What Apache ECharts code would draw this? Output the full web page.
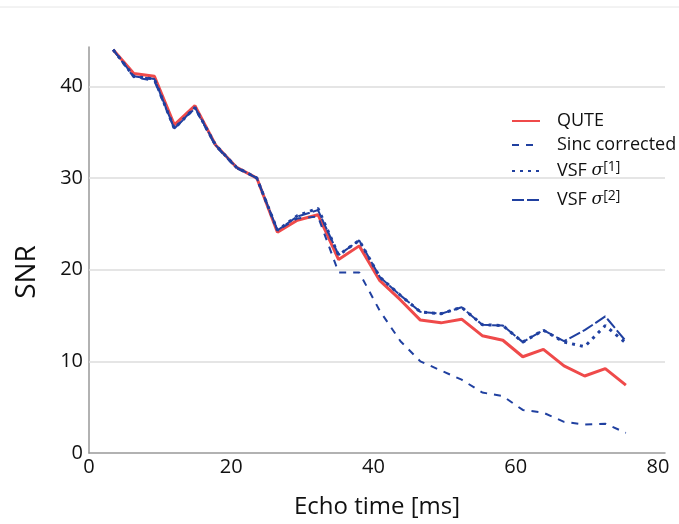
<!DOCTYPE html>
<html>
<head>
<meta charset="utf-8">
<script src="https://cdn.jsdelivr.net/npm/echarts@6/dist/echarts.min.js"></script>
<style>html,body{margin:0;padding:0;background:#fff}#c{width:679px;height:524px}</style>
</head>
<body>
<div id="c"></div>
<script>
const echoTime = [3.4, 6.3, 9.2, 12.0, 14.9, 17.8, 20.7, 23.6, 26.5, 29.3, 32.2, 35.1, 38.0, 40.9, 43.8, 46.6, 49.5, 52.4, 55.3, 58.2, 61.0, 63.9, 66.8, 69.7, 72.6, 75.5];
const qute = [44.0, 41.4, 41.1, 35.8, 37.9, 33.6, 31.2, 30.0, 24.1, 25.4, 26.0, 21.1, 22.6, 18.8, 16.7, 14.5, 14.2, 14.6, 12.8, 12.3, 10.5, 11.3, 9.5, 8.4, 9.2, 7.4];
const sinc = [44.0, 41.0, 40.6, 35.4, 37.6, 33.5, 31.1, 30.0, 24.3, 25.6, 25.8, 19.7, 19.7, 15.5, 12.2, 10.0, 9.0, 8.0, 6.6, 6.2, 4.7, 4.4, 3.4, 3.1, 3.2, 2.2];
const vsf1 = [44.0, 41.1, 40.8, 35.4, 37.7, 33.6, 31.2, 30.0, 24.3, 25.9, 26.7, 21.6, 23.2, 19.2, 17.2, 15.4, 15.2, 15.9, 14.0, 13.9, 12.1, 13.4, 12.1, 11.6, 13.9, 12.0];
const vsf2 = [44.0, 41.1, 40.8, 35.4, 37.7, 33.6, 31.2, 30.0, 24.3, 25.8, 26.5, 21.6, 23.2, 19.2, 17.2, 15.4, 15.2, 15.9, 14.0, 13.9, 12.1, 13.4, 12.2, 13.4, 14.9, 12.2];
const xTicks = [0, 20, 40, 60, 80];
const yTicks = [0, 10, 20, 30, 40];
const gridValues = [10, 20, 30, 40];
const seriesNames = ['QUTE', 'Sinc corrected', 'VSF σ[1]', 'VSF σ[2]'];

const pair = arr => echoTime.map((t, i) => [t, arr[i]]);
const RED = '#ef4a4a', BLUE = '#2040a0';
const FONT = 'Open Sans';

const chart = echarts.init(document.getElementById('c'));
chart.setOption({
  animation: false,
  backgroundColor: '#fff',
  textStyle: { fontFamily: FONT },
  graphic: [
    { type: 'line', shape: { x1: 0, y1: 7, x2: 679, y2: 7 }, style: { stroke: '#e6e6e6', lineWidth: 1 } },
    { type: 'text', x: 27, y: 272, rotation: Math.PI / 2,
      style: { text: 'SNR', font: '28px "Open Sans"', fill: '#111', align: 'center', verticalAlign: 'middle' } }
  ],
  grid: { left: 89, right: 14, top: 47, bottom: 68 },
  legend: {
    left: 506, top: 107, orient: 'vertical', itemWidth: 28, itemHeight: 10, itemGap: 6,
    itemStyle: { opacity: 0 },
    data: seriesNames,
    formatter: function (name) {
      if (name === seriesNames[2]) return '{t|VSF }{s|σ}{p|[1]}';
      if (name === seriesNames[3]) return '{t|VSF }{s|σ}{p|[2]}';
      return '{t|' + name + '}';
    },
    textStyle: {
      fontFamily: FONT, fontSize: 18, color: '#111', padding: [0, 0, 0, 12],
      rich: {
        t: { fontFamily: FONT, fontSize: 18, color: '#111', lineHeight: 22 },
        s: { fontFamily: 'DejaVu Serif', fontStyle: 'italic', fontSize: 17, color: '#111', lineHeight: 22 },
        p: { fontFamily: FONT, fontSize: 14, color: '#111', lineHeight: 22, verticalAlign: 'top', padding: [0, 0, 9, 0] }
      }
    }
  },
  xAxis: {
    type: 'value', min: xTicks[0], max: 81, interval: 20,
    name: 'Echo time [ms]', nameLocation: 'middle', nameGap: 42,
    nameTextStyle: { fontFamily: FONT, fontSize: 24, color: '#111' },
    axisLine: { show: true, lineStyle: { color: '#999', width: 1.5 } },
    axisTick: { show: false },
    axisLabel: { fontFamily: FONT, fontSize: 20, color: '#111', margin: 4, showMaxLabel: false,
      formatter: v => xTicks.includes(v) ? String(v) : '' },
    splitLine: { show: false }
  },
  yAxis: {
    type: 'value', min: yTicks[0], max: 44.3, interval: 10,
    axisLine: { show: true, lineStyle: { color: '#999', width: 1.5 } },
    axisTick: { show: false },
    axisLabel: { fontFamily: FONT, fontSize: 20, color: '#111', margin: 6, showMaxLabel: false,
      formatter: v => yTicks.includes(v) ? String(v) : '' },
    splitLine: { show: false }
  },
  series: [
    { name: seriesNames[0], type: 'line', data: pair(qute), symbol: 'none', z: 2,
      lineStyle: { color: RED, width: 3 }, itemStyle: { color: RED },
      markLine: { silent: true, symbol: 'none', label: { show: false }, z: 1,
        lineStyle: { color: '#dcdcdc', width: 1.5, type: 'solid' },
        data: gridValues.map(v => ({ yAxis: v })) } },
    { name: seriesNames[1], type: 'line', data: pair(sinc), symbol: 'none', z: 3,
      lineStyle: { color: BLUE, width: 2, type: [7, 7] }, itemStyle: { color: BLUE } },
    { name: seriesNames[2], type: 'line', data: pair(vsf1), symbol: 'none', z: 4,
      lineStyle: { color: BLUE, width: 3, type: [3, 5] }, itemStyle: { color: BLUE } },
    { name: seriesNames[3], type: 'line', data: pair(vsf2), symbol: 'none', z: 5,
      lineStyle: { color: BLUE, width: 2, type: [12, 3] }, itemStyle: { color: BLUE } }
  ]
});
</script>
</body>
</html>
